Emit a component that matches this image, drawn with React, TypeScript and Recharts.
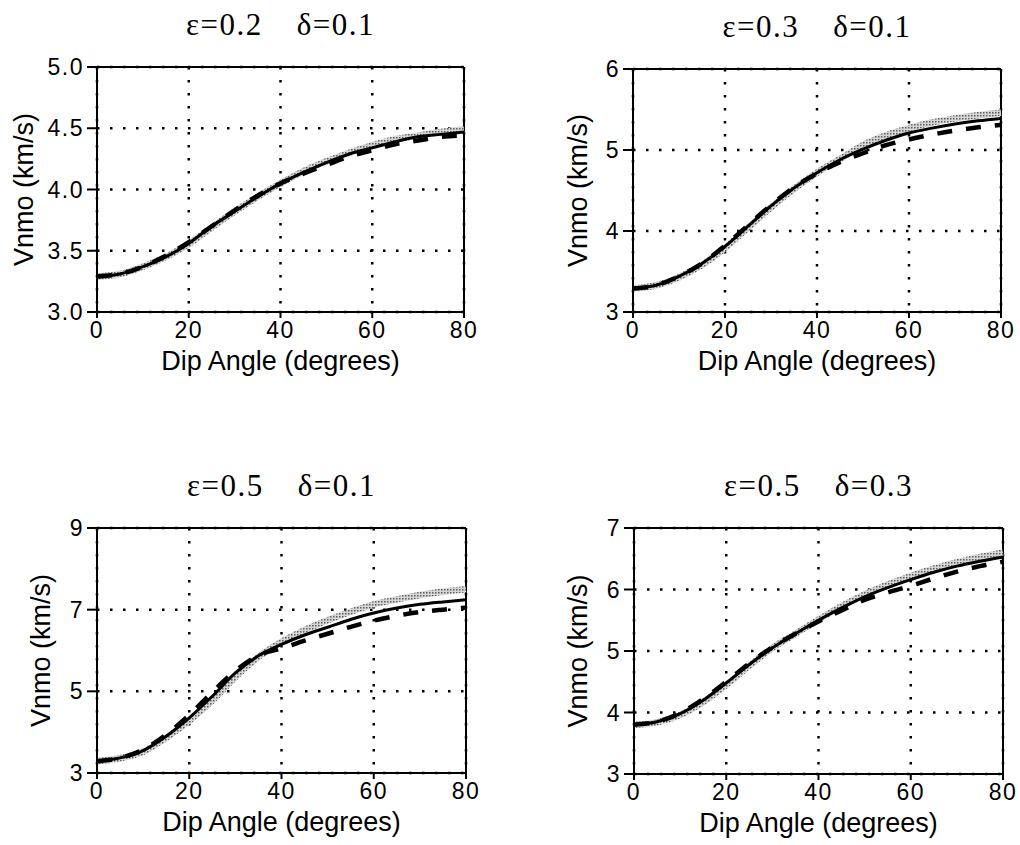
import { CartesianGrid, Label, Line, LineChart, ReferenceLine, XAxis, YAxis } from 'recharts';

// dip angles sampled every 5 degrees
const angles = [0, 5, 10, 15, 20, 25, 30, 35, 40, 45, 50, 55, 60, 65, 70, 75, 80];
const xTicks = [0, 20, 40, 60, 80];

// eps=0.2 delta=0.1
const exactA = [3.29, 3.31, 3.37, 3.45, 3.555, 3.69, 3.82, 3.94, 4.05, 4.15, 4.23, 4.3, 4.36, 4.41, 4.44, 4.47, 4.49];
const approxA = [3.29, 3.31, 3.37, 3.45, 3.56, 3.7, 3.82, 3.94, 4.05, 4.14, 4.22, 4.29, 4.34, 4.39, 4.43, 4.45, 4.47];
const weakA = [3.29, 3.31, 3.37, 3.46, 3.57, 3.7, 3.83, 3.95, 4.05, 4.13, 4.2, 4.27, 4.32, 4.37, 4.4, 4.43, 4.44];
const yTicksA = [3.0, 3.5, 4.0, 4.5, 5.0];

// eps=0.3 delta=0.1
const exactB = [3.29, 3.33, 3.43, 3.58, 3.79, 4.04, 4.29, 4.52, 4.72, 4.89, 5.06, 5.18, 5.27, 5.34, 5.39, 5.43, 5.46];
const approxB = [3.29, 3.33, 3.44, 3.6, 3.81, 4.06, 4.31, 4.53, 4.72, 4.88, 5.01, 5.12, 5.21, 5.27, 5.32, 5.36, 5.39];
const weakB = [3.29, 3.33, 3.44, 3.6, 3.82, 4.07, 4.32, 4.54, 4.71, 4.85, 4.96, 5.06, 5.13, 5.19, 5.24, 5.28, 5.31];
const yTicksB = [3, 4, 5, 6];

// eps=0.5 delta=0.1
const exactC = [3.29, 3.36, 3.52, 3.86, 4.28, 4.77, 5.35, 5.84, 6.21, 6.5, 6.74, 6.95, 7.13, 7.25, 7.36, 7.44, 7.5];
const approxC = [3.29, 3.37, 3.55, 3.9, 4.35, 4.88, 5.45, 5.87, 6.15, 6.38, 6.57, 6.76, 6.92, 7.04, 7.13, 7.19, 7.24];
const weakC = [3.29, 3.37, 3.57, 3.94, 4.42, 4.98, 5.5, 5.88, 6.05, 6.24, 6.41, 6.58, 6.73, 6.85, 6.94, 7.0, 7.05];
const yTicksC = [3, 5, 7, 9];

// eps=0.5 delta=0.3
const exactD = [3.8, 3.84, 3.96, 4.17, 4.45, 4.76, 5.05, 5.28, 5.51, 5.73, 5.92, 6.08, 6.22, 6.34, 6.44, 6.53, 6.6];
const approxD = [3.8, 3.85, 3.98, 4.2, 4.48, 4.78, 5.05, 5.28, 5.5, 5.7, 5.88, 6.03, 6.16, 6.28, 6.38, 6.46, 6.53];
const weakD = [3.8, 3.85, 3.99, 4.22, 4.5, 4.8, 5.06, 5.28, 5.48, 5.66, 5.83, 5.95, 6.06, 6.18, 6.29, 6.38, 6.45];
const yTicksD = [3, 4, 5, 6, 7];

const toRows = (exact: number[], approx: number[], weak: number[]) =>
  angles.map((angle, i) => ({ angle, exact: exact[i], approx: approx[i], weak: weak[i] }));

const sans = '"Liberation Sans", Arial, Helvetica, sans-serif';
const serif = '"Liberation Serif", "Times New Roman", serif';

function XTick({ x, y, payload }: any) {
  return (
    <text x={x} y={y + 17} textAnchor="middle" fill="#000" fontSize={23} fontFamily={sans} letterSpacing={1.5}>
      {payload.value}
    </text>
  );
}

function makeYTick(decimals: number) {
  return function YTick({ x, y, payload }: any) {
    return (
      <text x={x + 1} y={y + 8} textAnchor="end" fill="#000" fontSize={23} fontFamily={sans} letterSpacing={1.5}>
        {Number(payload.value).toFixed(decimals)}
      </text>
    );
  };
}

type PanelProps = {
  id: string;
  left: number;
  top: number;
  w: number;
  h: number;
  eps: string;
  delta: string;
  yTicks: number[];
  decimals: number;
  labelOffset: number;
  rows: ReturnType<typeof toRows>;
};

function Panel({ id, left, top, w, h, eps, delta, yTicks, decimals, labelOffset, rows }: PanelProps) {
  const axisW = 97;
  const axisH = 72;
  const mTop = 20;
  const mRight = 26;
  const yMin = yTicks[0];
  const yMax = yTicks[yTicks.length - 1];
  const labelStyle = { fill: '#000', fontSize: 27, fontFamily: sans, textAnchor: 'middle' as const };

  return (
    <div style={{ position: 'absolute', left: left - axisW, top: top - mTop }}>
      <div
        style={{
          position: 'absolute',
          left: axisW,
          width: w,
          top: -37,
          textAlign: 'center',
          fontFamily: serif,
          fontSize: 31,
          lineHeight: '30px',
          letterSpacing: 1.5,
          whiteSpace: 'nowrap',
        }}
      >
        <span>ε={eps}</span>
        <span style={{ marginLeft: 34 }}>δ={delta}</span>
      </div>
      <LineChart width={axisW + w + mRight} height={mTop + h + axisH} data={rows} margin={{ top: mTop, right: mRight, left: 0, bottom: 0 }}>
        <defs>
          <pattern id={`halftone-${id}`} width="3" height="3" patternUnits="userSpaceOnUse">
            <rect width="3" height="3" fill="#d6d6d6" />
            <rect width="1.5" height="1.5" fill="#5e5e5e" />
          </pattern>
        </defs>
        <CartesianGrid stroke="#000" strokeWidth={2.5} strokeDasharray="2.5 10.5" />
        <XAxis
          dataKey="angle"
          type="number"
          domain={[0, 80]}
          ticks={xTicks}
          height={axisH}
          tickSize={6}
          tickMargin={3}
          stroke="#000"
          strokeWidth={2}
          tick={<XTick />}
        >
          <Label value="Dip Angle (degrees)" position="insideBottom" offset={14} style={labelStyle} />
        </XAxis>
        <YAxis
          type="number"
          domain={[yMin, yMax]}
          ticks={yTicks}
          width={axisW}
          tickSize={10}
          tickMargin={4}
          stroke="#000"
          strokeWidth={2}
          tick={makeYTick(decimals)}
        >
          <Label value="Vnmo (km/s)" angle={-90} position="insideLeft" offset={labelOffset} style={labelStyle} />
        </YAxis>
        <ReferenceLine x={80} stroke="#000" strokeWidth={2} />
        <ReferenceLine y={yMax} stroke="#000" strokeWidth={2} />
        <Line
          dataKey="exact"
          type="monotone"
          stroke={`url(#halftone-${id})`}
          strokeWidth={6.5}
          dot={false}
          activeDot={false}
          isAnimationActive={false}
        />
        <Line dataKey="approx" type="monotone" stroke="#000" strokeWidth={3} dot={false} activeDot={false} isAnimationActive={false} />
        <Line
          dataKey="weak"
          type="monotone"
          stroke="#000"
          strokeWidth={4.5}
          strokeDasharray="15 14"
          dot={false}
          activeDot={false}
          isAnimationActive={false}
        />
      </LineChart>
    </div>
  );
}

export default function App() {
  return (
    <div style={{ position: 'absolute', left: 0, top: 0, width: 1020, height: 845, background: '#fff', overflow: 'hidden' }}>
      <Panel id="a" left={97} top={67} w={367} h={245} eps="0.2" delta="0.1" yTicks={yTicksA} decimals={1} labelOffset={23} rows={toRows(exactA, approxA, weakA)} />
      <Panel id="b" left={633} top={69} w={368} h={243} eps="0.3" delta="0.1" yTicks={yTicksB} decimals={0} labelOffset={41} rows={toRows(exactB, approxB, weakB)} />
      <Panel id="c" left={97} top={528} w={369} h={245} eps="0.5" delta="0.1" yTicks={yTicksC} decimals={0} labelOffset={40} rows={toRows(exactC, approxC, weakC)} />
      <Panel id="d" left={634} top={528} w={369} h={246} eps="0.5" delta="0.3" yTicks={yTicksD} decimals={0} labelOffset={40} rows={toRows(exactD, approxD, weakD)} />
    </div>
  );
}
